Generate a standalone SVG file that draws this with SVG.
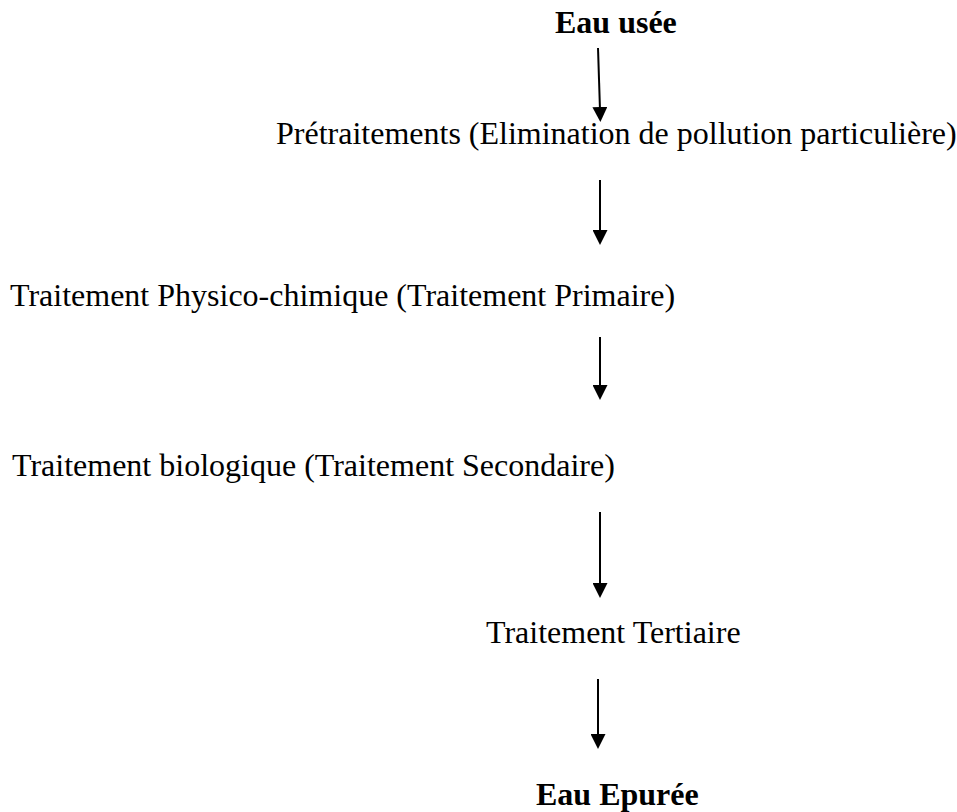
<svg xmlns="http://www.w3.org/2000/svg" width="957" height="812" viewBox="0 0 957 812">
<defs>
<marker id="ah" markerUnits="userSpaceOnUse" markerWidth="15" markerHeight="15" refX="3" refY="7.5" orient="auto" viewBox="0 0 15 15">
<path d="M0,0 L15,7.5 L0,15 z" fill="#000"/>
</marker>
<style>
.t{font-family:"Liberation Serif","Times New Roman",serif;font-size:32px;fill:#000}
.b{font-weight:bold}
.c{stroke:#000;stroke-width:2;fill:none;marker-end:url(#ah)}
</style>
</defs>
<rect width="957" height="812" fill="#fff"/>
<g id="n-eau-usee"><text class="t b" x="555" y="33">Eau usée</text></g>
<g id="n-pretraitements"><text class="t" x="276" y="144">Prétraitements (Elimination de pollution particulière)</text></g>
<g id="n-primaire"><text class="t" x="10" y="306">Traitement Physico-chimique (Traitement Primaire)</text></g>
<g id="n-secondaire"><text class="t" x="12" y="476">Traitement biologique (Traitement Secondaire)</text></g>
<g id="n-tertiaire"><text class="t" x="486" y="643">Traitement Tertiaire</text></g>
<g id="n-eau-epuree"><text class="t b" x="536" y="805">Eau Epurée</text></g>
<g id="connectors">
<line class="c" x1="598" y1="48" x2="600" y2="110"/>
<line class="c" x1="600" y1="180" x2="600" y2="233"/>
<line class="c" x1="600" y1="337" x2="600" y2="388"/>
<line class="c" x1="600" y1="512" x2="600" y2="586"/>
<line class="c" x1="598" y1="679" x2="598" y2="737"/>
</g>
</svg>
